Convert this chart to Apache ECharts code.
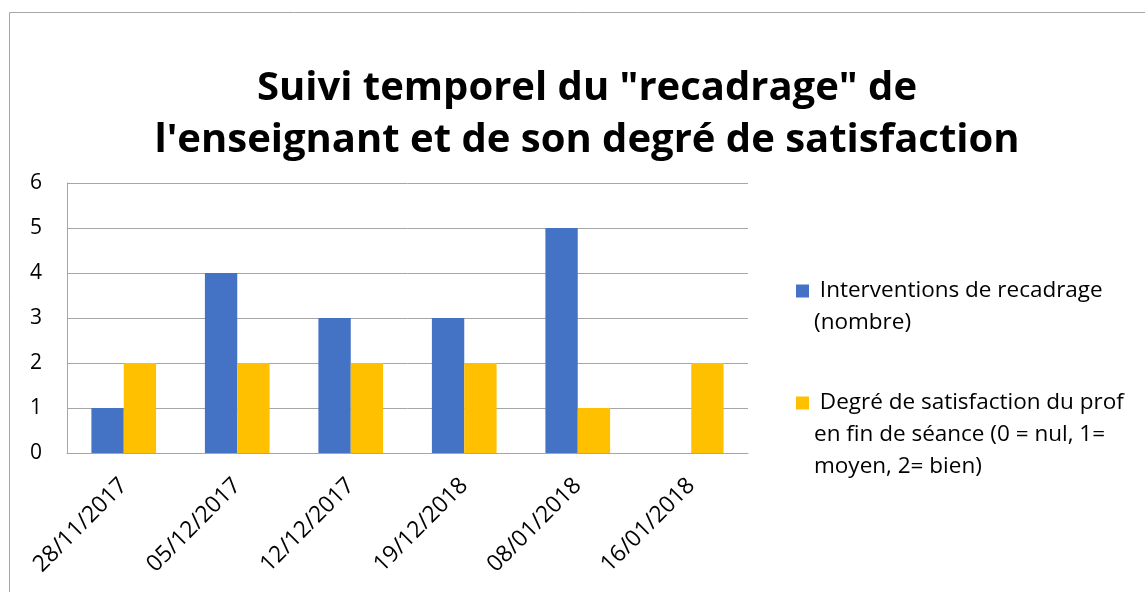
<!DOCTYPE html>
<html><head><meta charset="utf-8">
<script src="https://cdn.jsdelivr.net/npm/echarts@6/dist/echarts.min.js"></script>
<style>html,body{margin:0;padding:0;background:#fff}#c{width:1145px;height:592px}</style>
</head><body><div id="c"></div>
<script>
const categories = ['28/11/2017','05/12/2017','12/12/2017','19/12/2018','08/01/2018','16/01/2018'];
const interventions = [1,4,3,3,5,0];
const satisfaction = [2,2,2,2,1,2];
const yTicks = [0,1,2,3,4,5,6];
const seriesNames = ['Interventions de recadrage (nombre)', 'Degré de satisfaction du prof en fin de séance (0 = nul, 1= moyen, 2= bien)'];
const legendText = ['\n Interventions de recadrage\n(nombre)', '\n\n Degré de satisfaction du prof\nen fin de séance (0 = nul, 1=\nmoyen, 2= bien)'];
const LH = 32;
const FONT = 'Open Sans';
const chart = echarts.init(document.getElementById('c'));
chart.setOption({
  animation:false,
  title:{text:'Suivi temporel du "recadrage" de\nl\'enseignant et de son degré de satisfaction', left:582, textAlign:'center', top:58,
    textStyle:{fontFamily:FONT, fontWeight:'bold', fontSize:40, lineHeight:52, color:'#000'}},
  graphic:[{type:'rect', shape:{x:9.5,y:12.5,width:1300,height:800}, style:{fill:'none', stroke:'#a6a6a6', lineWidth:1}, silent:true}],
  grid:{left:67, right:397, top:183, bottom:139},
  legend:[
    {left:791, top:286-1.5*LH, orient:'vertical', itemWidth:13, itemHeight:13, icon:'rect', selectedMode:false,
     data:[seriesNames[0]],
     formatter:()=>legendText[0],
     textStyle:{fontFamily:FONT, fontSize:22.5, lineHeight:LH, color:'#000'}},
    {left:791, top:398-2.5*LH, orient:'vertical', itemWidth:13, itemHeight:13, icon:'rect', selectedMode:false,
     data:[seriesNames[1]],
     formatter:()=>legendText[1],
     textStyle:{fontFamily:FONT, fontSize:22.5, lineHeight:LH, color:'#000'}}
  ],
  xAxis:{type:'category', data:categories,
    axisLine:{lineStyle:{color:'#a6a6a6'}}, axisTick:{show:false},
    axisLabel:{rotate:45, fontFamily:FONT, fontSize:23, color:'#000', margin:29, interval:0}},
  yAxis:{type:'value', min:yTicks[0], max:yTicks[yTicks.length-1], interval:1,
    axisLine:{show:true, lineStyle:{color:'#a6a6a6'}}, axisTick:{show:false},
    splitLine:{lineStyle:{color:'#a6a6a6'}},
    axisLabel:{fontFamily:FONT, fontSize:21, color:'#000', margin:25}},
  series:[
    {name:seriesNames[0], type:'bar', data:interventions, itemStyle:{color:'#4472C4'}, barGap:'0%', barCategoryGap:'43%'},
    {name:seriesNames[1], type:'bar', data:satisfaction, itemStyle:{color:'#FFC000'}, barGap:'0%', barCategoryGap:'43%'}
  ]
});
</script></body></html>
